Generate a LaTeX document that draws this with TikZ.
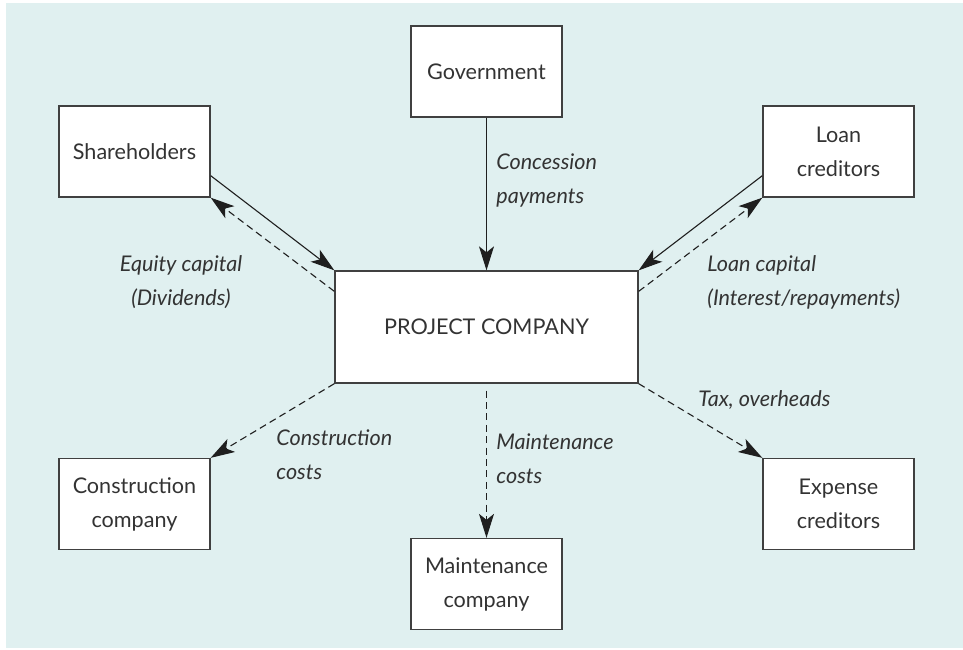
\documentclass[tikz,border=0pt]{standalone}
\usepackage{fontspec}
\setmainfont{Lato}
\usepackage{xcolor}
\usepackage{tikz}
\usetikzlibrary{arrows.meta}
\definecolor{bgteal}{RGB}{224,240,240}
\definecolor{inkgray}{RGB}{51,51,51}

\begin{document}
\begin{tikzpicture}[x=0.5pt,y=-0.5pt]
			\tikzstyle{every node}=[font=\fontsize{10.8}{17}\selectfont, text=inkgray];
			\tikzstyle{party}=[draw=black!75, line width=0.65pt, fill=white, minimum width=75.5pt, minimum height=45.5pt, inner sep=0pt, align=center];
			\tikzstyle{solidflow}=[-{Stealth[length=12pt,width=7.5pt,inset=3pt]}, line width=0.55pt, draw=black!88];
			\tikzstyle{dashflow}=[solidflow, dash pattern=on 3.5pt off 2.2pt];
			\tikzstyle{note}=[font=\fontsize{10.8}{17}\selectfont\itshape, inner sep=0pt];
			
			%Background
			\useasboundingbox (0,0) rectangle (963,649);
			\fill[bgteal] (6,3) rectangle (963,648);
			
			%Centre
			\node[party, minimum width=151.5pt, minimum height=56pt] (pc) at (486.5, 327) {PROJECT COMPANY};
			
			%Top row
			\node[party] (gov) at (486.5, 71.5) {Government};
			\node[party] (share) at (134.5, 151.5) {Shareholders};
			\node[party] (loan) at (838.5, 151.5) {Loan\\creditors};
			
			%Bottom row
			\node[party] (constr) at (134.5, 504) {Construction\\company};
			\node[party] (maint) at (486.5, 584) {Maintenance\\company};
			\node[party] (expense) at (838.5, 504) {Expense\\creditors};
			
			%Lines in
			\draw[solidflow] (gov.south) -- (pc.north);
			\draw[solidflow] ([yshift=11pt]share.south east) -- (pc.north west);
			\draw[solidflow] ([yshift=11pt]loan.south west) -- (pc.north east);
			
			%Lines out
			\draw[dashflow] ([yshift=-10.5pt]pc.north west) -- (share.south east);
			\draw[dashflow] ([yshift=-10.5pt]pc.north east) -- (loan.south west);
			\draw[dashflow] (pc.south west) -- (constr.north east);
			\draw[dashflow] ([yshift=-3.5pt]pc.south) -- (maint.north);
			\draw[dashflow] (pc.south east) -- (expense.north west);
			
			%Labels
			\node[note, anchor=west, align=left] (concession) at (496, 180) {Concession\\payments};
			\node[note, align=center] (equity) at (181, 282) {Equity capital\\(Dividends)};
			\node[note, anchor=west, align=left] (loancap) at (707, 282) {Loan capital\\(Interest/repayments)};
			\node[note, anchor=west, align=left] (constrcost) at (276, 455) {Construction\\costs};
			\node[note, anchor=west, align=left] (maintcost) at (496, 459) {Maintenance\\costs};
			\node[note, anchor=west] (tax) at (698, 400) {Tax, overheads};
\end{tikzpicture}
\end{document}
